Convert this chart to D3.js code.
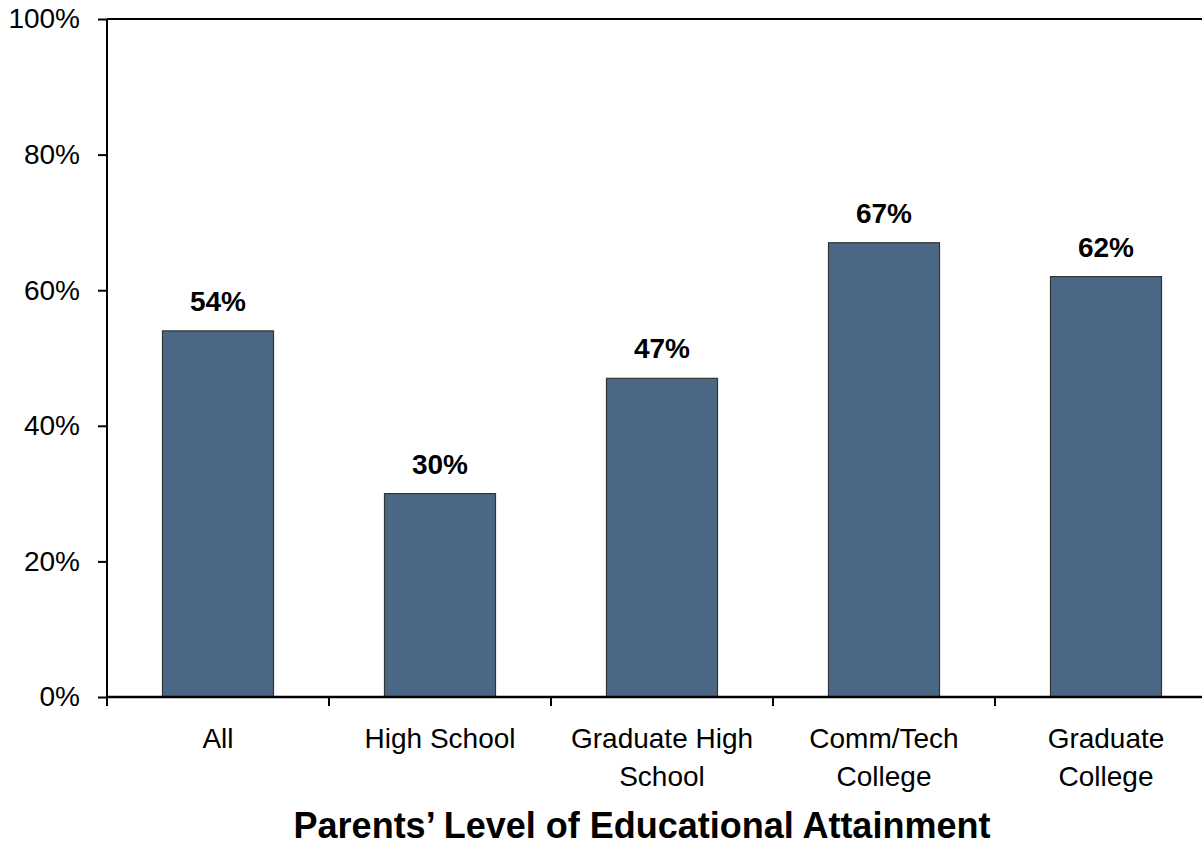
<!DOCTYPE html>
<html>
<head>
<meta charset="utf-8">
<script src="https://cdn.jsdelivr.net/npm/d3@7"></script>
<style>
  body { margin: 0; background: #fff; }
  svg { display: block; font-family: "Liberation Sans", Arial, sans-serif; }
</style>
</head>
<body>
<svg id="chart" width="1202" height="846"></svg>
<script>
// data
var categories = ['All', 'High School', 'Graduate High School', 'Comm/Tech College', 'Graduate College'];
var labelLines = [['All'], ['High School'], ['Graduate High', 'School'], ['Comm/Tech', 'College'], ['Graduate', 'College']];
var values = [54, 30, 47, 67, 62];
var yTicks = [0, 20, 40, 60, 80, 100];
var xTitle = 'Parents\u2019 Level of Educational Attainment';

var svg = d3.select('#chart'),
    margin = {top: 19, left: 107},
    plotW = 1110,
    plotH = 678,
    g = svg.append('g').attr('transform', 'translate(' + margin.left + ',' + margin.top + ')');

var x = d3.scaleBand().domain(categories).range([0, plotW]).paddingInner(0.5).paddingOuter(0.25);
var y = d3.scaleLinear().domain([0, 100]).range([plotH, 0]);

// top border line (100%)
g.append('line')
  .attr('x1', 0).attr('x2', plotW)
  .attr('y1', y(100)).attr('y2', y(100))
  .attr('stroke', '#000').attr('stroke-width', 2);

// bars
g.selectAll('.bar')
  .data(values)
  .enter()
  .append('rect')
  .attr('class', 'bar')
  .attr('x', (d, i) => x(categories[i]))
  .attr('y', d => y(d))
  .attr('width', x.bandwidth())
  .attr('height', d => y(0) - y(d))
  .attr('fill', '#4a6785')
  .attr('stroke', '#333')
  .attr('stroke-width', 1.2);

// value labels
g.selectAll('.val')
  .data(values)
  .enter()
  .append('text')
  .attr('class', 'val')
  .attr('x', (d, i) => x(categories[i]) + x.bandwidth() / 2)
  .attr('y', d => y(d) - 20)
  .attr('text-anchor', 'middle')
  .style('font-size', '28px')
  .style('font-weight', 'bold')
  .text(d => d + '%');

// y axis
var yAxis = g.append('g')
  .call(d3.axisLeft(y).tickValues(yTicks).tickFormat(d => d + '%').tickSize(9).tickPadding(18));
yAxis.select('.domain').attr('stroke-width', 2).attr('d', 'M0,' + y(100) + 'V' + y(0));
yAxis.selectAll('.tick line').attr('stroke-width', 2);
yAxis.selectAll('.tick text').style('font-size', '28px').attr('fill', '#000')
  .style('font-family', '"Liberation Sans", Arial, sans-serif');

// x axis, ticks at category boundaries
var bounds = d3.range(categories.length + 1).map(i => i * x.step());
var xAxis = g.append('g').attr('transform', 'translate(0,' + plotH + ')');
xAxis.append('line')
  .attr('x1', 0).attr('x2', plotW)
  .attr('stroke', '#000').attr('stroke-width', 2.5);
xAxis.selectAll('.xt')
  .data(bounds)
  .enter()
  .append('line')
  .attr('class', 'xt')
  .attr('x1', d => d).attr('x2', d => d)
  .attr('y1', 0).attr('y2', 9)
  .attr('stroke', '#000').attr('stroke-width', 2);

var catText = xAxis.selectAll('.cat')
  .data(labelLines)
  .enter()
  .append('text')
  .attr('class', 'cat')
  .attr('text-anchor', 'middle')
  .attr('transform', (d, i) => 'translate(' + (x(categories[i]) + x.bandwidth() / 2) + ',51)')
  .style('font-size', '28px');
catText.selectAll('tspan')
  .data(d => d)
  .enter()
  .append('tspan')
  .attr('x', 0)
  .attr('dy', (d, i) => i ? 37.5 : 0)
  .text(d => d);

// axis title
svg.append('text')
  .attr('x', 642)
  .attr('y', 838)
  .attr('text-anchor', 'middle')
  .style('font-size', '36px')
  .style('font-weight', 'bold')
  .text(xTitle);
</script>
</body>
</html>
